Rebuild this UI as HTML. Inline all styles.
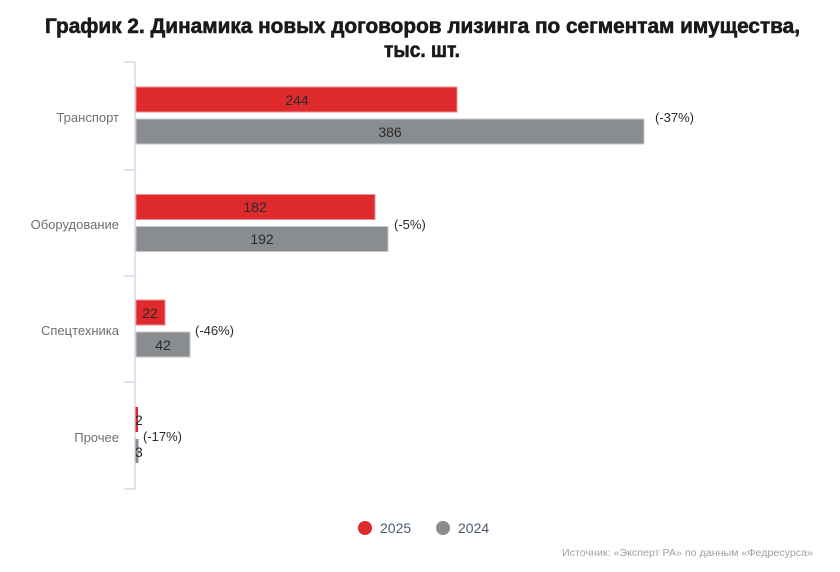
<!DOCTYPE html>
<html>
<head>
<meta charset="utf-8">
<style>
html,body{margin:0;padding:0;background:#fff;}
svg{display:block;}
text{font-family:"Liberation Sans","DejaVu Sans",sans-serif;}
</style>
</head>
<body>
<svg width="840" height="572" viewBox="0 0 840 572" xmlns="http://www.w3.org/2000/svg">
  <rect width="840" height="572" fill="#fff"/>
  <!-- Title -->
  <text x="45" y="33" font-size="21" font-weight="bold" fill="#1a1a1a" stroke="#1a1a1a" stroke-width="0.6" textLength="755" lengthAdjust="spacingAndGlyphs">График 2. Динамика новых договоров лизинга по сегментам имущества,</text>
  <text x="384" y="57" font-size="21" font-weight="bold" fill="#1a1a1a" stroke="#1a1a1a" stroke-width="0.6" textLength="76" lengthAdjust="spacingAndGlyphs">тыс. шт.</text>

  <!-- Axis -->
  <g stroke="#d6d9ee" stroke-width="1.5" fill="none">
    <line x1="135" y1="62" x2="135" y2="489"/>
    <line x1="124" y1="62" x2="135" y2="62"/>
    <line x1="124" y1="170" x2="135" y2="170"/>
    <line x1="124" y1="276" x2="135" y2="276"/>
    <line x1="124" y1="382" x2="135" y2="382"/>
    <line x1="124" y1="489" x2="135" y2="489"/>
  </g>

  <!-- Category labels -->
  <g font-size="13" fill="#6f6f6f" text-anchor="end">
    <text x="119" y="122">Транспорт</text>
    <text x="119" y="229">Оборудование</text>
    <text x="119" y="335">Спецтехника</text>
    <text x="119" y="442">Прочее</text>
  </g>

  <!-- Bars -->
  <g stroke-width="1">
    <rect x="136" y="87" width="321" height="25" fill="#de2a2d" stroke="#ec8f90"/>
    <rect x="136" y="119" width="508" height="25" fill="#8a8d90" stroke="#c6c8ca"/>

    <rect x="136" y="194.5" width="239" height="25" fill="#de2a2d" stroke="#ec8f90"/>
    <rect x="136" y="226.5" width="252" height="25" fill="#8a8d90" stroke="#c6c8ca"/>

    <rect x="136" y="300" width="29" height="25" fill="#de2a2d" stroke="#ec8f90"/>
    <rect x="136" y="332" width="54" height="25" fill="#8a8d90" stroke="#c6c8ca"/>

    <rect x="135.5" y="407" width="2.5" height="25" fill="#de2a2d"/>
    <rect x="135.5" y="439" width="3" height="24" fill="#8a8d90"/>
  </g>

  <!-- Value labels -->
  <g font-size="14" fill="#2a2a2a" text-anchor="middle">
    <text x="297" y="105">244</text>
    <text x="390" y="137">386</text>
    <text x="255" y="212">182</text>
    <text x="262" y="244">192</text>
    <text x="150" y="318">22</text>
    <text x="163" y="350">42</text>
  </g>
  <g font-size="14" fill="#2a2a2a">
    <text x="135" y="425">2</text>
    <text x="135" y="457">3</text>
  </g>

  <!-- Change labels -->
  <g font-size="13" fill="#2a2a2a">
    <text x="655" y="122">(-37%)</text>
    <text x="394" y="229">(-5%)</text>
    <text x="195" y="335">(-46%)</text>
    <text x="143" y="441">(-17%)</text>
  </g>

  <!-- Legend -->
  <circle cx="365" cy="528" r="7" fill="#de2a2d"/>
  <text x="380" y="533" font-size="14" fill="#4d5b70">2025</text>
  <circle cx="443" cy="528" r="7" fill="#8a8d90"/>
  <text x="458" y="533" font-size="14" fill="#4d5b70">2024</text>

  <!-- Source -->
  <text x="562" y="556" font-size="10" fill="#a0a0a0" textLength="251" lengthAdjust="spacingAndGlyphs">Источник: «Эксперт РА» по данным «Федресурса»</text>
</svg>
</body>
</html>
